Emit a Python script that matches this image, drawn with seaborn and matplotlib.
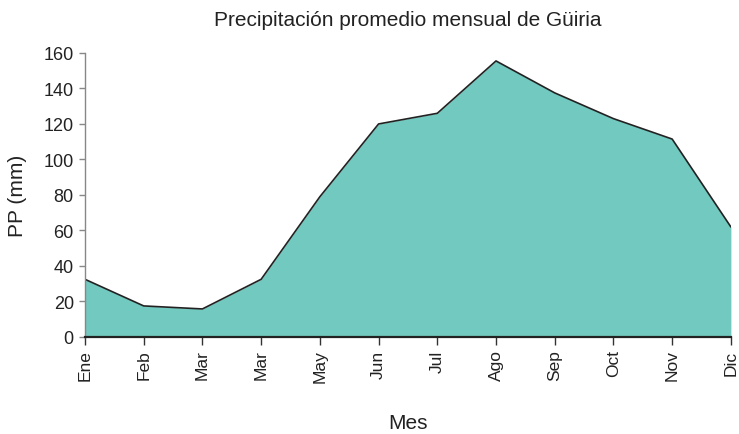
import matplotlib
matplotlib.use("Agg")
import matplotlib.pyplot as plt
import seaborn as sns
import numpy as np
import pandas as pd

meses = ["Ene", "Feb", "Mar", "Mar", "May", "Jun", "Jul", "Ago", "Sep", "Oct", "Nov", "Dic"]
precipitacion = [32.5, 17.5, 15.8, 32.5, 79, 120, 126, 155.5, 137.5, 123, 111.5, 62]
y_ticks = [0, 20, 40, 60, 80, 100, 120, 140, 160]

sns.set_theme(style="white")
plt.rcParams["font.family"] = ["Liberation Sans", "DejaVu Sans"]

df = pd.DataFrame({"pos": np.arange(len(meses)), "pp": precipitacion})

fig = plt.figure(figsize=(7.39, 4.35), dpi=100)
ax = fig.add_axes([0.115, 0.223, 0.874, 0.653])

ax.fill_between(df["pos"], 0, df["pp"], color="#72c9bf", linewidth=0, zorder=1)
sns.lineplot(data=df, x="pos", y="pp", ax=ax, color="#222222", linewidth=1.2, zorder=2)

ax.set_xlim(0, len(meses) - 1)
ax.set_ylim(0, 160)
ax.set_xticks(df["pos"])
ax.set_xticklabels(meses, rotation=90, fontsize=12.5, color="#222222")
ax.set_yticks(y_ticks)
ax.set_yticklabels([str(v) for v in y_ticks], fontsize=13, color="#222222")

for side in ["top", "right"]:
    ax.spines[side].set_visible(False)
ax.spines["left"].set_color("#888888")
ax.spines["left"].set_linewidth(1.0)
ax.spines["bottom"].set_color("#222222")
ax.spines["bottom"].set_linewidth(1.6)
ax.spines["bottom"].set_zorder(3)

ax.tick_params(axis="x", direction="out", length=6, width=1.0, color="#333333", pad=3, bottom=True)
ax.tick_params(axis="y", direction="out", length=4, width=1.0, color="#888888", pad=4, left=True)

ax.set_xlabel("Mes", fontsize=15, color="#222222", labelpad=22)
ax.set_ylabel("PP (mm)", fontsize=15, color="#222222", labelpad=12)
ax.set_title("Precipitación promedio mensual de Güiria", fontsize=15, color="#222222", pad=20)

fig.savefig("out.png", dpi=100)
